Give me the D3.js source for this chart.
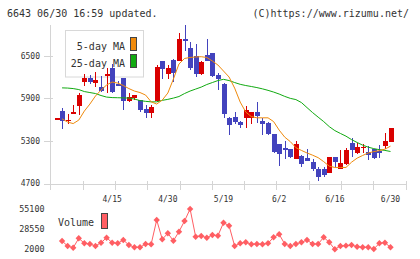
<!DOCTYPE html>
<html>
<head>
<meta charset="utf-8">
<script src="https://cdn.jsdelivr.net/npm/d3@7"></script>
<style>
  body { margin: 0; background: #fff; }
  svg { display: block; font-family: "DejaVu Sans Mono", monospace; }
</style>
</head>
<body>
<div id="chart"></div>
<script>
// trading days shown (2020)
const dates = ["4/1","4/2","4/3","4/6","4/7","4/8","4/9","4/10","4/13","4/14",
  "4/15","4/16","4/17","4/20","4/21","4/22","4/23","4/24","4/27","4/28",
  "4/30","5/1","5/7","5/8","5/11","5/12","5/13","5/14","5/15","5/18",
  "5/19","5/20","5/21","5/22","5/25","5/26","5/27","5/28","5/29","6/1",
  "6/2","6/3","6/4","6/5","6/8","6/9","6/10","6/11","6/12","6/15",
  "6/16","6/17","6/18","6/19","6/22","6/23","6/24","6/25","6/26","6/29","6/30"];

const open  = [5610,5720,5585,5682,5795,6129,6185,6119,6058,6214,6326,6105,6185,5857,5908,5871,5744,5696,5865,6421,
  6246,6439,6430,6736,6604,6496,6246,6510,6538,6232,6101,5621,5635,5565,5625,5625,5706,5579,5550,5395,
  5254,5198,5184,5047,5085,5057,5000,4902,4911,4850,5071,4906,4972,5268,5127,5205,5141,5184,5155,5226,5282];
const high  = [5625,5761,5673,5809,5978,6246,6232,6270,6214,6326,6379,6139,6190,5978,5950,5875,5800,5800,6373,6430,
  6373,6450,6820,6933,6689,6660,6425,6736,6545,6260,6110,5630,5706,5580,5790,5710,5847,5620,5560,5400,
  5260,5301,5190,5296,5104,5184,5043,4926,4930,5080,5075,5170,5198,5339,5268,5254,5226,5190,5240,5409,5485];
const low   = [5605,5470,5540,5680,5668,6068,6105,6058,5988,5974,5974,6068,5738,5850,5880,5706,5625,5625,5847,6167,
  6167,6129,6420,6570,6302,6195,6232,6420,6200,6020,5625,5386,5537,5480,5480,5541,5550,5386,5377,5123,
  4944,5039,5060,5040,4930,5010,4878,4732,4789,4845,4930,4900,4954,5071,5120,5127,5029,5043,5057,5184,5280];
const close = [5620,5583,5595,5710,5946,6185,6129,6157,6002,6238,5988,6077,5865,5917,5946,5738,5696,5776,6340,6317,
  6326,6260,6736,6703,6330,6246,6411,6430,6210,6176,5682,5527,5560,5527,5730,5706,5650,5532,5400,5142,
  5113,5170,5071,5254,4977,5019,4906,4789,4813,5071,5000,4986,5170,5170,5212,5215,5099,5057,5127,5296,5479];

// moving averages
const ma5 = [null,5611,5565,5544,5593,5720,5819,5932,6016,6087,6129,6114,6080,6037,6002,5981,5946,5851,5819,5875,
  5974,6171,6383,6461,6475,6482,6486,6475,6425,6369,6284,6200,6044,5847,5706,5642,5625,5625,5625,5572,
  5452,5353,5290,5205,5166,5130,5099,5064,5008,4944,4926,4926,4926,5000,5057,5095,5130,5149,5163,5184,5226];
const ma25 = [null,6047,6044,6037,6023,5995,5981,5967,5939,5917,5910,5908,5906,5903,5889,5868,5857,5850,5850,5871,
  5885,5903,5925,5967,6002,6030,6058,6094,6122,6150,6167,6150,6122,6097,6080,6066,6051,6033,6012,5988,
  5960,5927,5899,5882,5840,5769,5699,5635,5572,5501,5445,5405,5367,5318,5278,5240,5212,5191,5177,5166,5151];

const volume = [null,12900,6350,4100,16500,9900,9000,6350,10700,17300,10700,9900,14250,7650,4650,4650,9000,8600,40600,15200,
  23100,13300,25200,39300,55100,18600,19500,17300,20850,19900,37000,33100,6350,9900,11200,8600,9000,8600,9900,17800,
  21800,9000,6350,9000,11200,14250,9000,9000,17800,11200,2000,6350,6800,7650,5400,4650,4650,2400,9900,10700,4650];

const priceTicks = [4700, 5300, 5900, 6500];
const volTicks = [2000, 28550, 55100];
const dateLabels = ["4/15", "4/30", "5/19", "6/2", "6/16", "6/30"];

const width = 420, height = 259;
const upColor = "#d90000", downColor = "#4343bd";
const ma5Color = "#ef8a0c", ma25Color = "#11aa11", volColor = "#ff5e63";
const gridColor = "#d4d4d4", textColor = "#333";

const svg = d3.select("#chart").append("svg")
  .attr("width", width).attr("height", height);

// scales
const x = d3.scalePoint().domain(dates).range([56.5, 390.5]);
const y = d3.scaleLinear().domain([4700, 6500]).range([183.5, 55.7]);
const yv = d3.scaleLinear().domain([2000, 55100]).range([249.3, 209]);
const frame = d3.scaleLinear().domain([0, 11]).range([50.5, 405.5]);

// header
svg.append("text").attr("x", 7).attr("y", 16.5)
  .attr("font-size", 10).attr("fill", textColor)
  .text("6643 06/30 16:59 updated.");
svg.append("text").attr("x", 409).attr("y", 16.5)
  .attr("text-anchor", "end").attr("font-size", 10).attr("fill", textColor)
  .text("(C)https://www.rizumu.net/");

// frame axes
const axes = svg.append("g").attr("stroke", gridColor).attr("shape-rendering", "crispEdges");
axes.append("line").attr("x1", 50.5).attr("x2", 50.5).attr("y1", 25).attr("y2", 190);
axes.append("line").attr("x1", 50.5).attr("x2", 405.5).attr("y1", 184).attr("y2", 184);
axes.selectAll(".xt").data(d3.range(1, 12)).join("line")
  .attr("x1", d => Math.round(frame(d)) + 0.5).attr("x2", d => Math.round(frame(d)) + 0.5)
  .attr("y1", 181).attr("y2", 190);
axes.selectAll(".yt").data(priceTicks).join("line")
  .attr("x1", 44).attr("x2", 53)
  .attr("y1", d => Math.round(y(d)) + 0.5).attr("y2", d => Math.round(y(d)) + 0.5);

svg.append("g").attr("font-size", 8).attr("fill", textColor)
  .selectAll("text").data(priceTicks).join("text")
  .attr("x", 40).attr("y", d => y(d)).attr("dy", "0.35em")
  .attr("text-anchor", "end").text(d => d);

svg.append("g").attr("font-size", 8).attr("fill", textColor)
  .selectAll("text").data(dateLabels).join("text")
  .attr("x", d => x(d)).attr("y", 201.5)
  .attr("text-anchor", "middle").text(d => d);

// legend (behind the candles)
const lg = svg.append("g");
lg.append("rect").attr("x", 65.5).attr("y", 30.5).attr("width", 78).attr("height", 46.5)
  .attr("fill", "#fff").attr("stroke", "#d8d8d8");
[["5-day MA", ma5Color, 49.5, 37.5], ["25-day MA", ma25Color, 67, 54.5]].forEach(([t, c, ty, ry]) => {
  lg.append("text").attr("x", 125).attr("y", ty).attr("text-anchor", "end")
    .attr("font-size", 10).attr("fill", textColor).text(t);
  lg.append("rect").attr("x", 130.5).attr("y", ry).attr("width", 6).attr("height", 13)
    .attr("fill", c).attr("stroke", "#444");
});

// candles
const idx = d3.range(dates.length);
const cg = svg.append("g").attr("shape-rendering", "crispEdges");
cg.selectAll("line").data(idx).join("line")
  .attr("x1", i => Math.round(x(dates[i])) + 0.5).attr("x2", i => Math.round(x(dates[i])) + 0.5)
  .attr("y1", i => y(high[i])).attr("y2", i => y(low[i]))
  .attr("stroke", i => close[i] >= open[i] ? upColor : downColor);
cg.selectAll("rect").data(idx).join("rect")
  .attr("x", i => Math.round(x(dates[i])) - 2)
  .attr("width", 5)
  .attr("y", i => y(Math.max(open[i], close[i])))
  .attr("height", i => Math.max(1.5, Math.abs(y(open[i]) - y(close[i]))))
  .attr("fill", i => close[i] >= open[i] ? upColor : downColor);

// moving averages
const maLine = arr => d3.line()
  .defined(i => arr[i] != null)
  .x(i => x(dates[i])).y(i => y(arr[i]));
svg.append("path").attr("d", maLine(ma25)(idx))
  .attr("fill", "none").attr("stroke", ma25Color).attr("stroke-width", 1);
svg.append("path").attr("d", maLine(ma5)(idx))
  .attr("fill", "none").attr("stroke", ma5Color).attr("stroke-width", 1);

// volume panel
svg.append("g").attr("font-size", 8.4).attr("fill", textColor)
  .selectAll("text").data(volTicks).join("text")
  .attr("x", 44.5).attr("y", d => yv(d)).attr("dy", "0.35em")
  .attr("text-anchor", "end").text(d => d);

svg.append("text").attr("x", 58).attr("y", 226)
  .attr("font-size", 10).attr("fill", textColor).text("Volume");
svg.append("rect").attr("x", 101.5).attr("y", 213.5).attr("width", 6).attr("height", 15)
  .attr("fill", volColor).attr("stroke", "#444");

const vIdx = idx.filter(i => volume[i] != null);
svg.append("path")
  .attr("d", d3.line().x(i => x(dates[i])).y(i => yv(volume[i]))(vIdx))
  .attr("fill", "none").attr("stroke", volColor).attr("stroke-width", 1);
svg.append("g").attr("fill", volColor)
  .selectAll("path").data(vIdx).join("path")
  .attr("transform", i => `translate(${x(dates[i])},${yv(volume[i])})`)
  .attr("d", "M0,-3.2L3.2,0L0,3.2L-3.2,0Z");
</script>
</body>
</html>
